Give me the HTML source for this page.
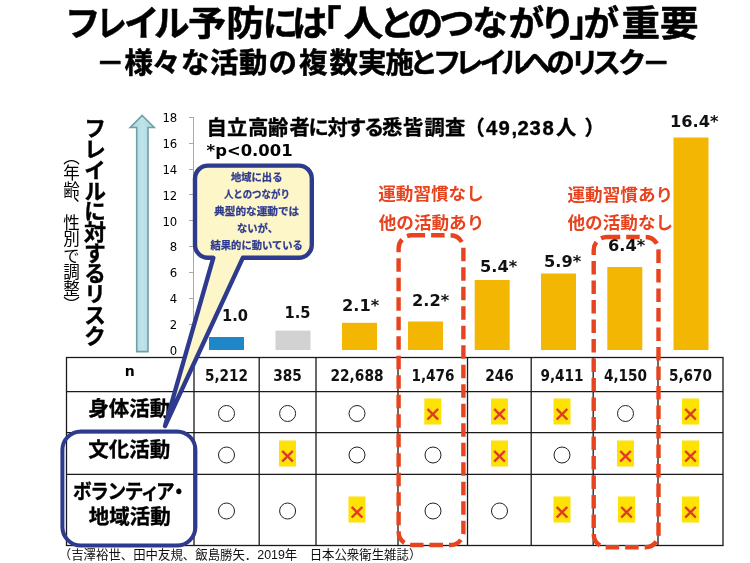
<!DOCTYPE html>
<html lang="ja">
<head>
<meta charset="utf-8">
<title>フレイル予防には「人とのつながり」が重要</title>
<style>
html,body{margin:0;padding:0;background:#fff;}
body{width:750px;height:563px;overflow:hidden;position:relative;filter:blur(0.4px);}
svg{position:absolute;left:0;top:0;display:block;will-change:transform;}
.jp{font-family:"Liberation Sans","Noto Sans CJK JP",sans-serif;}
.num{font-family:"DejaVu Sans","Liberation Sans",sans-serif;}
.xm{font-family:"Noto Sans CJK JP",sans-serif;font-weight:700;}
.b{font-weight:700;}
.hv{stroke:#000;stroke-width:0.55px;paint-order:stroke;stroke-linejoin:round;}
.hv2{stroke:#000;stroke-width:0.35px;paint-order:stroke;stroke-linejoin:round;}
.vt{will-change:transform;position:absolute;writing-mode:vertical-rl;white-space:nowrap;font-family:"Liberation Sans","Noto Sans CJK JP",sans-serif;color:#000;line-height:1;}
</style>
</head>
<body>
<svg width="750" height="563" viewBox="0 0 750 563">
  <defs>
    <linearGradient id="arr" x1="0" y1="0" x2="1" y2="0">
      <stop offset="0" stop-color="#a9d6de"/><stop offset="0.5" stop-color="#bfe3e9"/><stop offset="1" stop-color="#a9d6de"/>
    </linearGradient>
  </defs>
  <rect width="750" height="563" fill="#fff"/>

  <!-- titles -->
  <text class="jp b hv" y="36.2" font-size="35.6"><tspan x="65">フ</tspan><tspan x="96.6" textLength="30.3" lengthAdjust="spacingAndGlyphs">レ</tspan><tspan x="124 154">イル</tspan><tspan x="188" textLength="76.4" lengthAdjust="spacingAndGlyphs">予防</tspan><tspan x="262.5 292 306">には「</tspan><tspan x="343.6" textLength="40" lengthAdjust="spacingAndGlyphs">人</tspan><tspan x="379 407.5 439 472.5 508.5 539.7 569.3 583.5">とのつながり」が</tspan><tspan x="621.6" textLength="77" lengthAdjust="spacingAndGlyphs">重要</tspan></text>
  <text class="jp b hv" y="72.8" font-size="28.4" x="96 124.5 152 181 210 239 268.5 299 329.5 358 385.5 409.5 433 455 479 501.5 523 546.5 570.5 592.5 618 642">－様々な活動の複数実施とフレイルへのリスク－</text>

  <!-- y axis -->
  <g stroke="#a8a8a8" stroke-width="1" fill="none">
    <line x1="193.5" y1="117" x2="193.5" y2="351"/>
    <line x1="189" y1="117.5" x2="193.5" y2="117.5"/>
    <line x1="189" y1="143.5" x2="193.5" y2="143.5"/>
    <line x1="189" y1="169.5" x2="193.5" y2="169.5"/>
    <line x1="189" y1="194.5" x2="193.5" y2="194.5"/>
    <line x1="189" y1="220.5" x2="193.5" y2="220.5"/>
    <line x1="189" y1="246.5" x2="193.5" y2="246.5"/>
    <line x1="189" y1="272.5" x2="193.5" y2="272.5"/>
    <line x1="189" y1="298.5" x2="193.5" y2="298.5"/>
    <line x1="189" y1="324.5" x2="193.5" y2="324.5"/>
    <line x1="189" y1="350.5" x2="193.5" y2="350.5"/>
  </g>
  <g class="num" font-size="11.7" text-anchor="end" fill="#000">
    <text x="177.3" y="121.6">18</text>
    <text x="177.3" y="147.6">16</text>
    <text x="177.3" y="173.6">14</text>
    <text x="177.3" y="199.6">12</text>
    <text x="177.3" y="225.6">10</text>
    <text x="177.3" y="251.1">8</text>
    <text x="177.3" y="277.1">6</text>
    <text x="177.3" y="303.1">4</text>
    <text x="177.3" y="328.6">2</text>
    <text x="177.3" y="354.6">0</text>
  </g>

  <!-- arrow -->
  <path d="M142.2 115.5 L154.2 127.5 L148 127.5 L148 351.6 L136.7 351.6 L136.7 127.5 L130.2 127.5 Z" fill="url(#arr)" stroke="#6f9fa8" stroke-width="1.6" stroke-linejoin="miter"/>

  <!-- bars -->
  <rect x="209" y="337" width="35" height="13" fill="#1f86c7"/>
  <rect x="275.5" y="330.6" width="35" height="19.4" fill="#d2d2d2"/>
  <g fill="#f2b603">
    <rect x="342" y="322.8" width="35" height="27.2"/>
    <rect x="408" y="321.5" width="35" height="28.5"/>
    <rect x="474.7" y="280" width="35" height="70"/>
    <rect x="541" y="273.5" width="35" height="76.5"/>
    <rect x="607.3" y="267" width="35" height="83"/>
    <rect x="673.5" y="137.5" width="35" height="212.5"/>
  </g>

  <!-- table grid -->
  <g stroke="#1a1a1a" stroke-width="1.3" fill="none">
    <rect x="66.5" y="357.5" width="656.5" height="188"/>
    <line x1="66.5" y1="391.6" x2="723" y2="391.6"/>
    <line x1="66.5" y1="432.7" x2="723" y2="432.7"/>
    <line x1="66.5" y1="474.4" x2="723" y2="474.4"/>
    <line x1="194" y1="357.5" x2="194" y2="545.5"/>
    <line x1="259.2" y1="357.5" x2="259.2" y2="545.5"/>
    <line x1="316" y1="357.5" x2="316" y2="545.5"/>
    <line x1="398" y1="357.5" x2="398" y2="545.5"/>
    <line x1="467.5" y1="357.5" x2="467.5" y2="545.5"/>
    <line x1="531.2" y1="357.5" x2="531.2" y2="545.5"/>
    <line x1="593.2" y1="357.5" x2="593.2" y2="545.5"/>
    <line x1="658" y1="357.5" x2="658" y2="545.5"/>
  </g>

  <!-- table row labels -->
  <text class="num b" x="129.7" y="375.6" font-size="14" text-anchor="middle">n</text>
  <text class="jp b hv2" x="129.3" y="415.5" font-size="20.5" text-anchor="middle">身体活動</text>
  <text class="jp b hv2" x="129.3" y="456.8" font-size="20.5" text-anchor="middle">文化活動</text>
  <text class="jp b hv2" x="128.2" y="499" font-size="20.5" text-anchor="middle" textLength="110.5" lengthAdjust="spacingAndGlyphs" style="font-feature-settings:'palt'">ボランティア・</text>
  <text class="jp b hv2" x="129.8" y="523.5" font-size="20.5" text-anchor="middle">地域活動</text>

  <!-- n values -->
  <g class="num b" font-size="15.2" text-anchor="middle" fill="#111">
    <text x="226.5" y="380.6" textLength="43.2" lengthAdjust="spacingAndGlyphs">5,212</text>
    <text x="287.6" y="380.6" textLength="28.6" lengthAdjust="spacingAndGlyphs">385</text>
    <text x="357" y="380.6" textLength="53" lengthAdjust="spacingAndGlyphs">22,688</text>
    <text x="433" y="380.6" textLength="43.2" lengthAdjust="spacingAndGlyphs">1,476</text>
    <text x="499.5" y="380.6" textLength="28.6" lengthAdjust="spacingAndGlyphs">246</text>
    <text x="562" y="380.6" textLength="43.2" lengthAdjust="spacingAndGlyphs">9,411</text>
    <text x="625.5" y="380.6" textLength="43.2" lengthAdjust="spacingAndGlyphs">4,150</text>
    <text x="690.5" y="380.6" textLength="43.2" lengthAdjust="spacingAndGlyphs">5,670</text>
  </g>

  <!-- marks: circles -->
  <g fill="none" stroke="#222" stroke-width="1">
    <circle cx="226.5" cy="413.5" r="8"/>
    <circle cx="287.6" cy="413.5" r="8"/>
    <circle cx="357" cy="413.5" r="8"/>
    <circle cx="625.5" cy="413.5" r="8"/>
    <circle cx="226.5" cy="455" r="8"/>
    <circle cx="357" cy="455" r="8"/>
    <circle cx="433" cy="455" r="8"/>
    <circle cx="562" cy="455" r="8"/>
    <circle cx="226.5" cy="511" r="8"/>
    <circle cx="287.6" cy="511" r="8"/>
    <circle cx="433" cy="511" r="8"/>
    <circle cx="499.5" cy="511" r="8"/>
  </g>
  <!-- marks: yellow boxes -->
  <g fill="#fde203">
    <rect x="424.3" y="398.5" width="17" height="26"/>
    <rect x="491" y="398.5" width="17" height="26"/>
    <rect x="553.5" y="398.5" width="17" height="26"/>
    <rect x="682" y="398.5" width="17" height="26"/>
    <rect x="279" y="440.5" width="17" height="26"/>
    <rect x="491" y="440.5" width="17" height="26"/>
    <rect x="617" y="440.5" width="17" height="26"/>
    <rect x="682" y="440.5" width="17" height="26"/>
    <rect x="348.5" y="496.5" width="17" height="26"/>
    <rect x="553.5" y="496.5" width="17" height="26"/>
    <rect x="618" y="496.5" width="17" height="26"/>
    <rect x="682" y="496.5" width="17" height="26"/>
  </g>
  <g class="xm" font-size="17.5" text-anchor="middle" fill="#e2352b" stroke="#e2352b" stroke-width="0.5">
    <text x="432.8" y="421.3">×</text>
    <text x="499.5" y="421.3">×</text>
    <text x="562" y="421.3">×</text>
    <text x="690.5" y="421.3">×</text>
    <text x="287.5" y="463.3">×</text>
    <text x="499.5" y="463.3">×</text>
    <text x="625.5" y="463.3">×</text>
    <text x="690.5" y="463.3">×</text>
    <text x="357" y="519.3">×</text>
    <text x="562" y="519.3">×</text>
    <text x="626.5" y="519.3">×</text>
    <text x="690.5" y="519.3">×</text>
  </g>

  <!-- chart header -->
  <text class="jp b hv2" y="134.6" font-size="20.3" x="206.5 227 248 268 289.5 308.5 327.5 346 364 382 403 424.5 445 464.5 486 498.5 511.5 517.5 529.5 542.5 556 584.5">自立高齢者に対する悉皆調査（49,238人）</text>
  <text class="num b" x="206.6" y="156" font-size="15.8" textLength="86" lengthAdjust="spacingAndGlyphs">*p&lt;0.001</text>

  <!-- value labels -->
  <g class="num b" font-size="16" fill="#111">
    <text x="222" y="321" textLength="26" lengthAdjust="spacingAndGlyphs">1.0</text>
    <text x="284.5" y="318" textLength="26" lengthAdjust="spacingAndGlyphs">1.5</text>
    <text x="342" y="310.7" textLength="37.2" lengthAdjust="spacingAndGlyphs">2.1*</text>
    <text x="412" y="306" textLength="37.2" lengthAdjust="spacingAndGlyphs">2.2*</text>
    <text x="480" y="271.5" textLength="37.2" lengthAdjust="spacingAndGlyphs">5.4*</text>
    <text x="544" y="267.2" textLength="37.2" lengthAdjust="spacingAndGlyphs">5.9*</text>
    <text x="608" y="250.8" textLength="37.2" lengthAdjust="spacingAndGlyphs">6.4*</text>
    <text x="670" y="126.7" textLength="48.5" lengthAdjust="spacingAndGlyphs">16.4*</text>
  </g>

  <!-- red notes -->
  <g class="jp b" font-size="17.6" fill="#e8431f" text-anchor="middle">
    <text x="431" y="199.7">運動習慣なし</text>
    <text x="431.5" y="228.7">他の活動あり</text>
    <text x="620.3" y="200.6">運動習慣あり</text>
    <text x="620.3" y="229.2">他の活動なし</text>
  </g>

  <!-- dashed boxes -->
  <g fill="none" stroke="#e8431f" stroke-width="4.4" stroke-dasharray="13.5 6">
    <rect x="398.6" y="235.3" width="64.8" height="309.7" rx="13" ry="13"/>
    <rect x="593.7" y="237" width="64.8" height="310.3" rx="13" ry="13"/>
  </g>

  <!-- blue rounded box around row labels -->
  <rect x="62.4" y="431.5" width="133" height="114" rx="18.5" ry="18.5" fill="none" stroke="#2e3a8e" stroke-width="4"/>

  <!-- callout -->
  <path d="M208 165.6 L298.8 165.6 A13 13 0 0 1 311.8 178.6 L311.8 244.8 A13 13 0 0 1 298.8 257.8 L242.8 257.8 L165 426 L213.3 257.8 L208 257.8 A13 13 0 0 1 195 244.8 L195 178.6 A13 13 0 0 1 208 165.6 Z" fill="#fdf6c9" stroke="#2e3a8e" stroke-width="4.4" stroke-linejoin="round"/>
  <g class="jp b" font-size="10.3" fill="#2e3a8e" stroke="#2e3a8e" stroke-width="0.25" text-anchor="middle">
    <text x="256.7" y="180.5">地域に出る</text>
    <text x="256.9" y="197.7" textLength="66" lengthAdjust="spacingAndGlyphs">人とのつながり</text>
    <text x="256.7" y="214.7" textLength="85" lengthAdjust="spacingAndGlyphs">典型的な運動では</text>
    <text x="257.5" y="231.8">ないが、</text>
    <text x="256.7" y="248.8">結果的に動いている</text>
  </g>

  <!-- caption -->
  <text class="jp" x="58.8" y="559.2" font-size="12.6" fill="#111" textLength="362.5" lengthAdjust="spacingAndGlyphs">（吉澤裕世、田中友規、飯島勝矢．2019年　日本公衆衛生雑誌）</text>
</svg>

<div class="vt b" style="left:80.6px;top:117px;width:22px;font-size:22px;letter-spacing:-1.27px;-webkit-text-stroke:0.4px #000;">フレイルに対するリスク</div>
<div class="vt" style="left:61.4px;top:147.6px;width:16.55px;font-size:16.55px;">（年齢、性別で調整）</div>
</body>
</html>
